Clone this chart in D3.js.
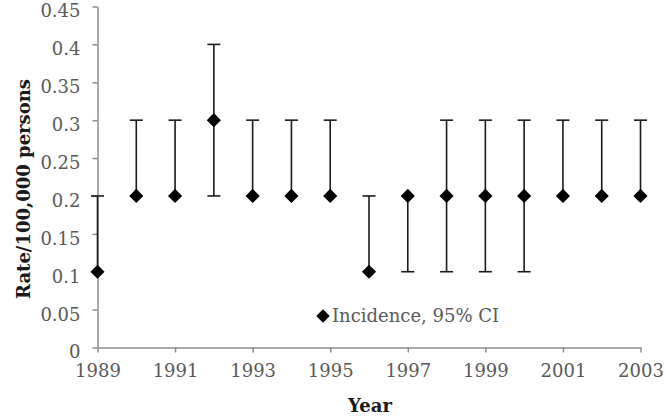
<!DOCTYPE html>
<html>
<head>
<meta charset="utf-8">
<script src="https://cdn.jsdelivr.net/npm/d3@7"></script>
<style>
  body { margin: 0; background: #fff; }
  svg { display: block; }
</style>
</head>
<body>
<div id="chart"></div>
<script>
// datos
var years = [1989, 1990, 1991, 1992, 1993, 1994, 1995, 1996, 1997, 1998, 1999, 2000, 2001, 2002, 2003];
var incidence = [0.1, 0.2, 0.2, 0.3, 0.2, 0.2, 0.2, 0.1, 0.2, 0.2, 0.2, 0.2, 0.2, 0.2, 0.2];
var ciLower = [0.1, 0.2, 0.2, 0.2, 0.2, 0.2, 0.2, 0.1, 0.1, 0.1, 0.1, 0.1, 0.2, 0.2, 0.2];
var ciUpper = [0.2, 0.3, 0.3, 0.4, 0.3, 0.3, 0.3, 0.2, 0.2, 0.3, 0.3, 0.3, 0.3, 0.3, 0.3];
var xTicks = [1989, 1991, 1993, 1995, 1997, 1999, 2001, 2003];
var yTicks = [0, 0.05, 0.1, 0.15, 0.2, 0.25, 0.3, 0.35, 0.4, 0.45];
var legendLabel = 'Incidence, 95% CI';

var w = 666, h = 416;
var font = '"DejaVu Serif", serif';
var axisColor = '#8c8c8c';
var textColor = '#595959';

var svg = d3.select('#chart').append('svg')
    .attr('width', w)
    .attr('height', h);

var x = d3.scaleLinear().domain([1989, 2003]).range([97.5, 640.5]);
var y = d3.scaleLinear().domain([0, 0.45]).range([347.5, 6.5]);

// ejes
var yAxis = svg.append('g')
    .attr('transform', 'translate(' + x(1989) + ',0)')
    .call(d3.axisLeft(y).tickValues(yTicks).tickSize(5).tickSizeOuter(0).tickPadding(12).tickFormat(d => String(d)));

var xAxis = svg.append('g')
    .attr('transform', 'translate(0,' + y(0) + ')')
    .call(d3.axisBottom(x).tickValues(xTicks).tickSize(5).tickSizeOuter(0).tickPadding(12).tickFormat(d => String(d)));

[xAxis, yAxis].forEach(function(g) {
    g.selectAll('path, line').attr('stroke', axisColor).attr('stroke-width', 1.5);
    g.selectAll('text')
        .attr('fill', textColor)
        .style('font-family', font)
        .style('font-size', '18px');
});
// las etiquetas del eje y quedan un poco por debajo de la marca
yAxis.selectAll('text').attr('dy', '0.58em');

// barras de error
var data = years.map((d, i) => ({year: d, v: incidence[i], lo: ciLower[i], hi: ciUpper[i]}));
var capW = 6.5;
var bars = svg.append('g').attr('stroke', '#1a1a1a').attr('stroke-width', 1.6);

bars.selectAll('line.bar')
    .data(data)
    .enter()
    .append('line')
    .attr('class', 'bar')
    .attr('x1', d => x(d.year))
    .attr('x2', d => x(d.year))
    .attr('y1', d => y(d.lo))
    .attr('y2', d => y(d.hi));

var caps = [];
data.forEach(function(d) {
    if (d.hi > d.v) caps.push({year: d.year, val: d.hi});
    if (d.lo < d.v) caps.push({year: d.year, val: d.lo});
});
bars.selectAll('line.cap')
    .data(caps)
    .enter()
    .append('line')
    .attr('class', 'cap')
    .attr('x1', d => x(d.year) - capW)
    .attr('x2', d => x(d.year) + capW)
    .attr('y1', d => y(d.val))
    .attr('y2', d => y(d.val));

// marcadores (rombos)
var diamond = d3.symbol().type(d3.symbolDiamond2).size(128);
svg.append('g').selectAll('path')
    .data(data)
    .enter()
    .append('path')
    .attr('d', diamond)
    .attr('transform', d => 'translate(' + x(d.year) + ',' + y(d.v) + ')')
    .attr('fill', '#000');

// leyenda
var legend = svg.append('g').attr('transform', 'translate(323,316)');
legend.append('path')
    .attr('d', d3.symbol().type(d3.symbolDiamond2).size(115))
    .attr('fill', '#000');
legend.append('text')
    .attr('x', 9)
    .attr('y', 6)
    .attr('fill', textColor)
    .style('font-family', font)
    .style('font-size', '18px')
    .text(legendLabel);

// titulos de ejes
svg.append('text')
    .attr('x', 370)
    .attr('y', 412)
    .attr('text-anchor', 'middle')
    .attr('fill', '#1a1a1a')
    .style('font-family', font)
    .style('font-size', '18px')
    .style('font-weight', 'bold')
    .text('Year');

svg.append('text')
    .attr('transform', 'translate(30,189) rotate(-90)')
    .attr('text-anchor', 'middle')
    .attr('fill', '#1a1a1a')
    .style('font-family', font)
    .style('font-size', '18px')
    .style('font-weight', 'bold')
    .text('Rate/100,000 persons');
</script>
</body>
</html>
